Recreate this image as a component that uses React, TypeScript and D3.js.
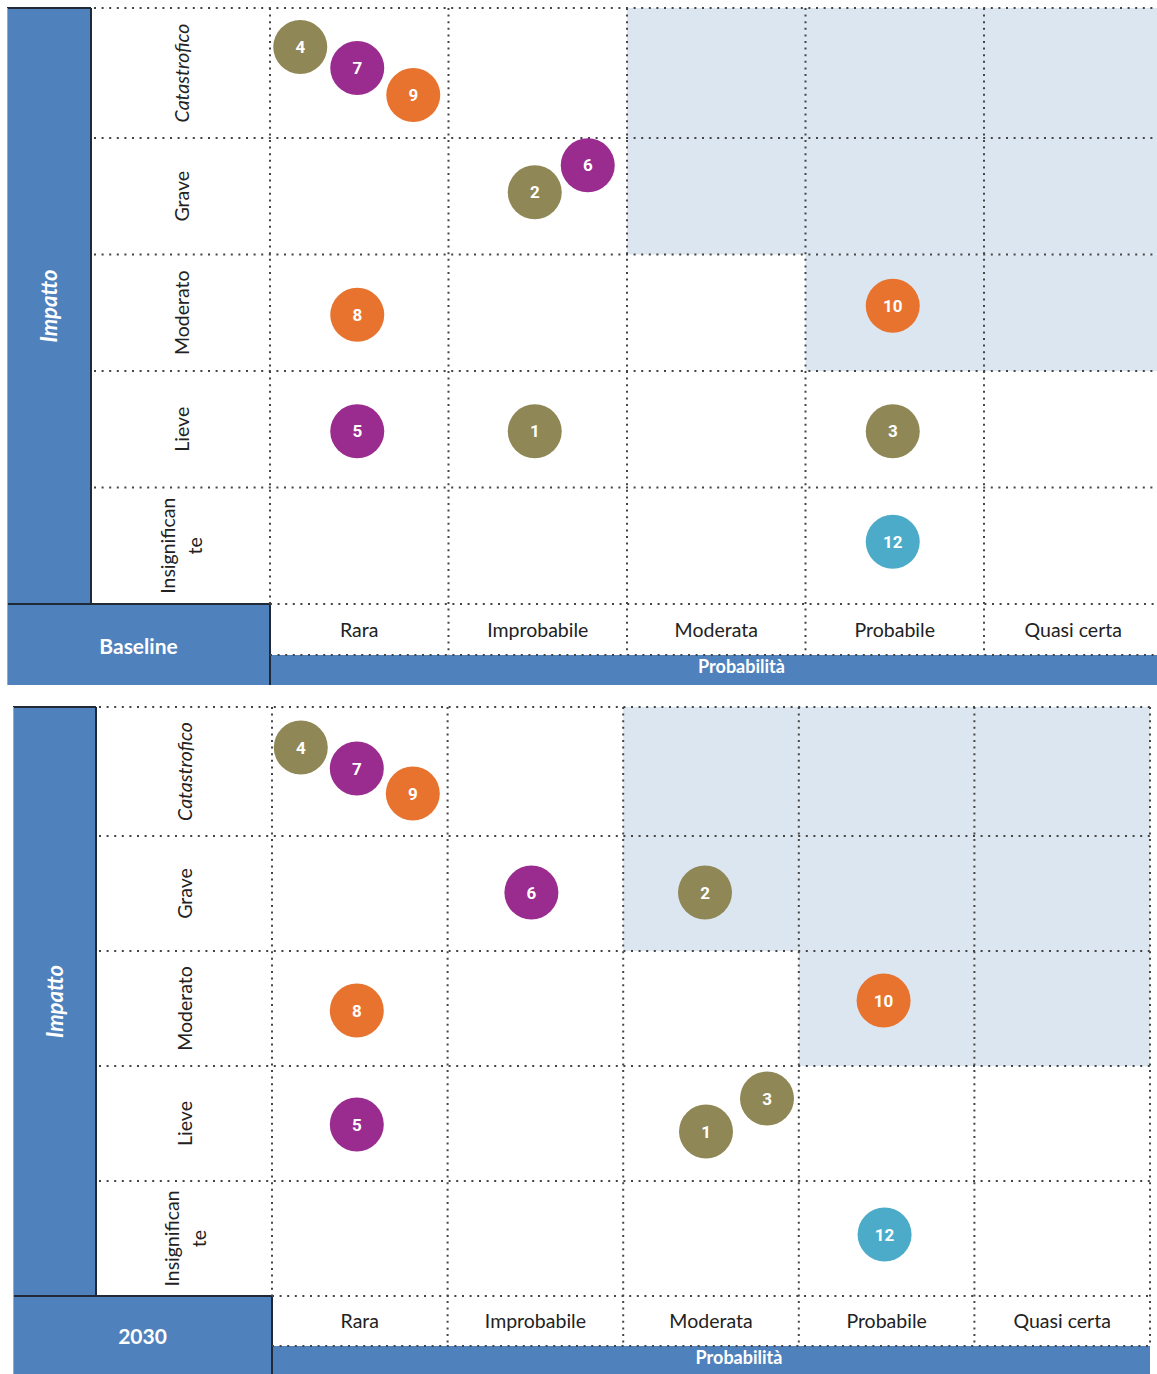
import React from "react";
import * as d3 from "d3";

// Axis categories
const probabilityLevels = ["Rara", "Improbabile", "Moderata", "Probabile", "Quasi certa"];
const impactLevels = ["Catastrofico", "Grave", "Moderato", "Lieve", "Insignificante"];
const impactLabelLines = [["Catastrofico"], ["Grave"], ["Moderato"], ["Lieve"], ["Insignifican", "te"]];

// Risks and their category group
const riskIds = [1, 2, 3, 4, 5, 6, 7, 8, 9, 10, 12];
const riskGroups = ["A", "A", "A", "A", "B", "B", "B", "C", "C", "C", "D"];

// Baseline assessment
const baselineProbability = ["Improbabile", "Improbabile", "Probabile", "Rara", "Rara", "Improbabile", "Rara", "Rara", "Rara", "Probabile", "Probabile"];
const baselineImpact = ["Lieve", "Grave", "Lieve", "Catastrofico", "Lieve", "Grave", "Catastrofico", "Moderato", "Catastrofico", "Moderato", "Insignificante"];

// 2030 assessment
const probability2030 = ["Moderata", "Moderata", "Moderata", "Rara", "Rara", "Improbabile", "Rara", "Rara", "Rara", "Probabile", "Probabile"];
const impact2030 = ["Lieve", "Grave", "Lieve", "Catastrofico", "Lieve", "Grave", "Catastrofico", "Moderato", "Catastrofico", "Moderato", "Insignificante"];

// Cells whose score (impact weight x probability weight) reaches this value are highlighted
const highRiskScore = 12;

const groupColor: Record<string, string> = {
  A: "#8F8755",
  B: "#9A2B8F",
  C: "#E8732F",
  D: "#4BABC8",
};

// Nudges inside a cell so that markers sharing it stay readable
const baselineNudge: Record<number, [number, number]> = {
  4: [-59, -26], 7: [-2, -5], 9: [54, 22], 2: [-3, -4], 6: [50, -31], 10: [-2, -7], 12: [-2, -4],
  8: [-2, 2], 5: [-2, 2], 1: [-3, 2], 3: [-2, 2],
};
const nudge2030: Record<number, [number, number]> = {
  4: [-59, -24], 7: [-3, -3], 9: [53, 22], 6: [-4, -1], 2: [-6, -1], 1: [-5, 8], 3: [56, -25],
  10: [-3, -8], 12: [-2, -4], 8: [-3, 2], 5: [-3, 1],
};

const BLUE = "#4F81BD";
const SHADE = "#DCE6F1";
const DOT = "#444";
const FONT = "Lato, 'Open Sans', sans-serif";

type Frame = {
  left: number;
  barRight: number;
  labelRight: number;
  gridRight: number;
  top: number;
  firstRowBottom: number;
  rowsBottom: number;
  labelRowBottom: number;
  bottom: number;
};

type PanelProps = {
  name: string;
  frame: Frame;
  probability: string[];
  impact: string[];
  nudge: Record<number, [number, number]>;
};

function Panel({ name, frame, probability, impact, nudge }: PanelProps) {
  const f = frame;
  const x = d3.scaleBand<string>().domain(probabilityLevels).range([f.labelRight, f.gridRight]);
  const w = x.bandwidth();
  // first impact row is taller; the rest share the remaining height evenly
  const lower = d3.scaleBand<string>().domain(impactLevels.slice(1)).range([f.firstRowBottom, f.rowsBottom]);
  const rowTop = (lvl: string) => (lvl === impactLevels[0] ? f.top : (lower(lvl) as number));
  const rowH = (lvl: string) => (lvl === impactLevels[0] ? f.firstRowBottom - f.top : lower.bandwidth());
  const rowEdges = [f.top, ...impactLevels.slice(1).map((l) => lower(l) as number), f.rowsBottom];
  const colEdges = [...probabilityLevels.map((p) => x(p) as number), f.gridRight];

  const impactWeight = (lvl: string) => impactLevels.length - impactLevels.indexOf(lvl);
  const probWeight = (lvl: string) => probabilityLevels.indexOf(lvl) + 1;

  const hDots = { stroke: DOT, strokeWidth: 2, strokeDasharray: "2 5.6" };
  const vDots = { stroke: DOT, strokeWidth: 2, strokeDasharray: "2 4.6" };

  return (
    <g>
      {/* highlighted cells */}
      {impactLevels.map((il) =>
        probabilityLevels
          .filter((pl) => impactWeight(il) * probWeight(pl) >= highRiskScore)
          .map((pl) => (
            <rect key={il + pl} x={x(pl)} y={rowTop(il)} width={w} height={rowH(il)} fill={SHADE} />
          ))
      )}

      {/* impact axis bar */}
      <rect x={f.left} y={f.top} width={f.barRight - f.left} height={f.rowsBottom - f.top} fill={BLUE} />
      <text
        transform={`translate(${(f.left + f.barRight) / 2 + 8},${(f.top + f.rowsBottom) / 2}) rotate(-90)`}
        textAnchor="middle"
        fill="#fff"
        fontFamily={FONT}
        fontWeight={700}
        fontStyle="italic"
        fontSize={22}
      >
        Impatto
      </text>

      {/* scenario box */}
      <rect x={f.left} y={f.rowsBottom} width={f.labelRight - f.left} height={f.bottom - f.rowsBottom} fill={BLUE} />
      <text
        x={(f.left + f.labelRight) / 2}
        y={(f.rowsBottom + f.bottom) / 2 + 9}
        textAnchor="middle"
        fill="#fff"
        fontFamily={FONT}
        fontWeight={700}
        fontSize={21}
      >
        {name}
      </text>

      {/* probability axis bar */}
      <rect x={f.labelRight} y={f.labelRowBottom} width={f.gridRight - f.labelRight} height={f.bottom - f.labelRowBottom} fill={BLUE} />
      <text
        x={(f.labelRight + Math.min(f.gridRight, 1157)) / 2 + 28}
        y={f.labelRowBottom + 18}
        textAnchor="middle"
        fill="#fff"
        fontFamily={FONT}
        fontWeight={700}
        fontSize={18}
      >
        Probabilità
      </text>

      {/* solid borders */}
      <line x1={f.left} x2={f.barRight} y1={f.top} y2={f.top} stroke="#1f2a36" strokeWidth={2} />
      <line x1={f.barRight} x2={f.barRight} y1={f.top} y2={f.rowsBottom} stroke="#1f2a36" strokeWidth={2} />
      <line x1={f.left} x2={f.labelRight} y1={f.rowsBottom} y2={f.rowsBottom} stroke="#1f2a36" strokeWidth={2} />
      <line x1={f.labelRight} x2={f.labelRight} y1={f.rowsBottom} y2={f.bottom} stroke="#1f2a36" strokeWidth={2} />
      <line x1={f.left + 0.5} x2={f.left + 0.5} y1={f.top} y2={f.bottom} stroke="#5cc0ee" strokeWidth={1} />

      {/* dotted grid */}
      {rowEdges.slice(0, -1).map((y, i) => (
        <line key={"h" + i} x1={f.barRight + 3} x2={f.gridRight} y1={y} y2={y} {...hDots} />
      ))}
      <line x1={f.labelRight} x2={f.gridRight} y1={f.rowsBottom} y2={f.rowsBottom} {...hDots} />
      <line x1={f.labelRight} x2={f.gridRight} y1={f.labelRowBottom} y2={f.labelRowBottom} {...hDots} />
      {colEdges.map((cx, i) => (
        <line
          key={"v" + i}
          x1={cx}
          x2={cx}
          y1={f.top}
          y2={i === 0 ? f.rowsBottom : f.labelRowBottom}
          {...vDots}
        />
      ))}

      {/* impact labels */}
      {impactLevels.map((il, i) => {
        const lines = impactLabelLines[i];
        const cx = (f.barRight + f.labelRight) / 2 + 2;
        const cy = rowTop(il) + rowH(il) / 2;
        return lines.map((ln, j) => (
          <text
            key={il + j}
            transform={`translate(${cx + (j - (lines.length - 1) / 2) * 27 + 6},${cy}) rotate(-90)`}
            textAnchor="middle"
            fill="#222"
            fontFamily={FONT}
            fontStyle={i === 0 ? "italic" : "normal"}
            fontSize={19.5}
          >
            {ln}
          </text>
        ));
      })}

      {/* probability labels */}
      {probabilityLevels.map((pl) => (
        <text
          key={pl}
          x={(x(pl) as number) + w / 2}
          y={(f.rowsBottom + f.labelRowBottom) / 2 + 7}
          textAnchor="middle"
          fill="#222"
          fontFamily={FONT}
          fontSize={19.5}
        >
          {pl}
        </text>
      ))}

      {/* risk markers */}
      {riskIds.map((id, i) => {
        const [dx, dy] = nudge[id] || [0, 0];
        const cx = (x(probability[i]) as number) + w / 2 + dx;
        const cy = rowTop(impact[i]) + rowH(impact[i]) / 2 + dy;
        return (
          <g key={id} transform={`translate(${cx},${cy})`}>
            <circle r={27} fill={groupColor[riskGroups[i]]} />
            <text
              y={6}
              textAnchor="middle"
              fill="#fff"
              fontFamily="Roboto, 'DejaVu Sans', sans-serif"
              fontWeight={700}
              fontSize={17}
            >
              {id}
            </text>
          </g>
        );
      })}
    </g>
  );
}

const baselineFrame: Frame = {
  left: 7, barRight: 91, labelRight: 270, gridRight: 1162.5,
  top: 8, firstRowBottom: 138, rowsBottom: 604, labelRowBottom: 655, bottom: 685,
};
const frame2030: Frame = {
  left: 13, barRight: 96, labelRight: 272, gridRight: 1150,
  top: 707, firstRowBottom: 836, rowsBottom: 1296, labelRowBottom: 1346, bottom: 1374,
};

export default function App() {
  return (
    <svg
      width={1157}
      height={1374}
      style={{ position: "absolute", left: 0, top: 0, background: "#fff" }}
    >
      <rect width={1157} height={1374} fill="#fff" />
      <Panel name="Baseline" frame={baselineFrame} probability={baselineProbability} impact={baselineImpact} nudge={baselineNudge} />
      <Panel name="2030" frame={frame2030} probability={probability2030} impact={impact2030} nudge={nudge2030} />
    </svg>
  );
}
